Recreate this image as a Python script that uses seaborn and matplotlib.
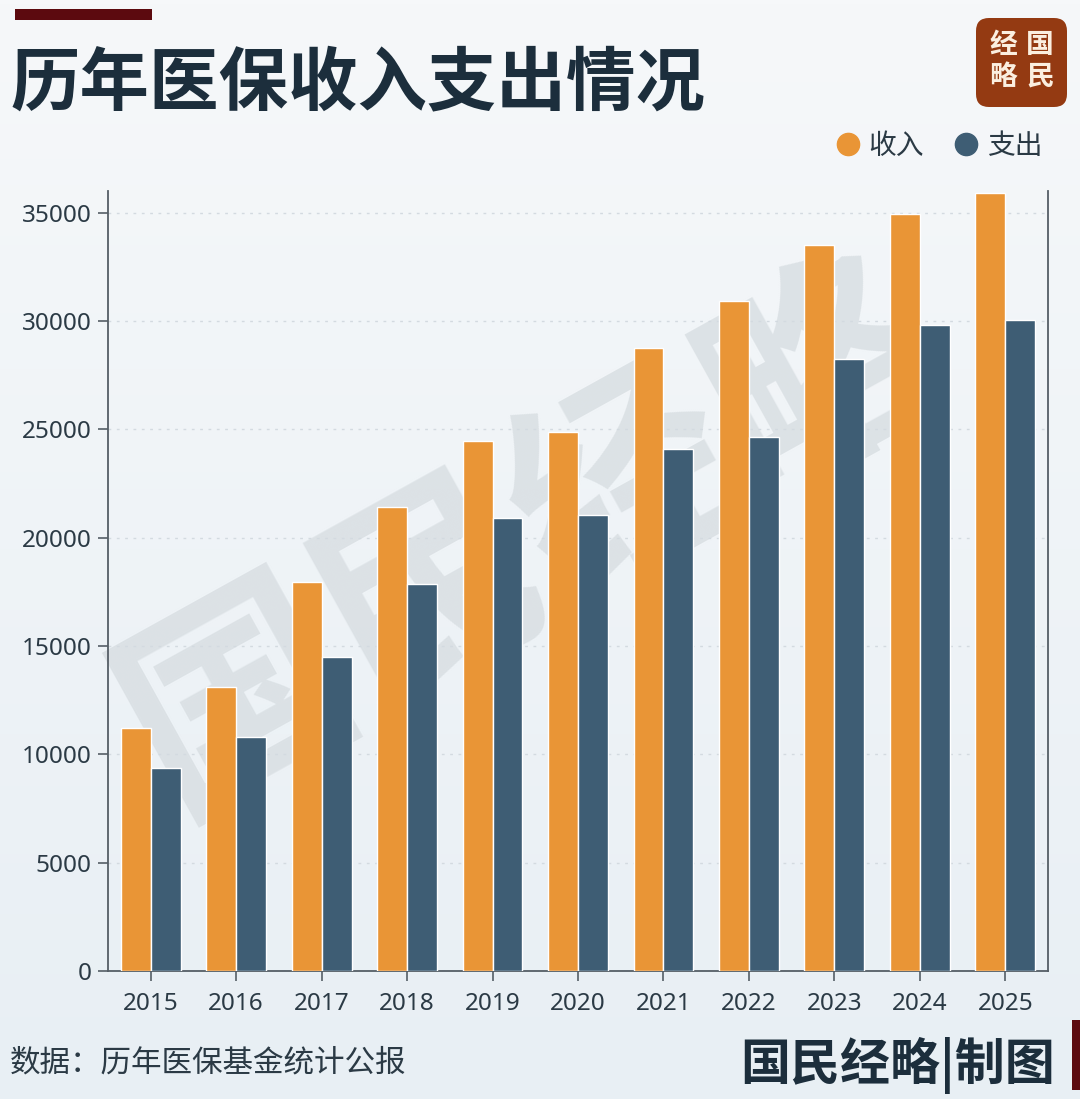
import matplotlib
matplotlib.use("Agg")
import matplotlib.pyplot as plt
from matplotlib.patches import FancyBboxPatch, Rectangle
from matplotlib.lines import Line2D
from matplotlib.colors import LinearSegmentedColormap
import seaborn as sns
import pandas as pd
import numpy as np

years = ["2015", "2016", "2017", "2018", "2019", "2020", "2021", "2022", "2023", "2024", "2025"]
income = [11230, 13130, 17970, 21410, 24440, 24870, 28750, 30940, 33520, 34940, 35890]
expense = [9360, 10800, 14470, 17860, 20900, 21060, 24090, 24630, 28260, 29800, 30050]
series_names = ["收入", "支出"]
y_ticks = [0, 5000, 10000, 15000, 20000, 25000, 30000, 35000]

title = "历年医保收入支出情况"
source = "数据：历年医保基金统计公报"
brand = "国民经略|制图"

ORANGE = "#E99536"
BLUE = "#3E5D74"
DARK = "#1C2E3C"
TEXT = "#2B3A45"
BG = "#EEF3F7"

df = pd.DataFrame({
    "年份": years * 2,
    "值": income + expense,
    "类别": [series_names[0]] * len(years) + [series_names[1]] * len(years),
})

sns.set_theme(style="white")
plt.rcParams["font.family"] = ["Noto Sans CJK SC", "DejaVu Sans"]

W, H = 1080, 1099
fig = plt.figure(figsize=(W / 100, H / 100), dpi=100)
fig.patch.set_facecolor(BG)

# subtle background gradient
bg_ax = fig.add_axes([0, 0, 1, 1], zorder=-10)
grad = np.linspace(0, 1, 256).reshape(-1, 1)
cmap = LinearSegmentedColormap.from_list("bg", ["#F6F8FA", "#E8EFF4"])
bg_ax.imshow(grad, aspect="auto", cmap=cmap, extent=[0, 1, 0, 1], origin="upper")
bg_ax.axis("off")

ax = fig.add_axes([108 / W, 1 - 971 / H, (1048 - 108) / W, (971 - 191) / H])
ax.set_facecolor("none")

# watermark
fig.text(0.49, 0.51, "国民经略", fontsize=160, color="#DAE0E4", alpha=0.9,
         rotation=29, ha="center", va="center", fontweight="bold", zorder=-5)

sns.barplot(data=df, x="年份", y="值", hue="类别", palette=[ORANGE, BLUE],
            width=0.7, edgecolor="white", linewidth=1.0, saturation=1,
            ax=ax, legend=False, zorder=3)

ax.set_ylim(0, 36000)
ax.set_xlim(-0.5, len(years) - 0.5)
ax.set_yticks(y_ticks)
ax.set_yticklabels([str(v) for v in y_ticks])
ax.set_xlabel("")
ax.set_ylabel("")
ax.yaxis.grid(True, linestyle=(0, (2, 4)), color="#D3DAE0", linewidth=1.0, zorder=0)
ax.xaxis.grid(False)
for s in ["left", "right", "bottom"]:
    ax.spines[s].set_visible(True)
    ax.spines[s].set_color("#555E66")
    ax.spines[s].set_linewidth(1.3)
ax.spines["top"].set_visible(False)
ax.tick_params(axis="both", which="both", direction="out", length=7, width=1.2,
               color="#555E66", labelsize=17.5, labelcolor=TEXT, pad=5)
ax.tick_params(axis="y", left=True)
ax.tick_params(axis="x", bottom=True, pad=8)
for lab in ax.get_xticklabels() + ax.get_yticklabels():
    lab.set_fontfamily(["Noto Sans", "DejaVu Sans"])

# legend
handles = [Line2D([0], [0], marker="o", linestyle="none", markersize=16,
                  markerfacecolor=c, markeredgecolor=c) for c in [ORANGE, BLUE]]
fig.legend(handles, series_names, loc="center right", bbox_to_anchor=(1056 / W, 1 - 146 / H),
           ncol=2, frameon=False, fontsize=20, handletextpad=0.15, columnspacing=0.9,
           handlelength=1.2, labelcolor=TEXT, borderpad=0)

# title
fig.text(10 / W, 1 - 84 / H, title, fontsize=50, fontweight="bold", color=DARK,
         ha="left", va="center")
fig.add_artist(Rectangle((15 / W, 1 - 20 / H), (152 - 15) / W, 11 / H,
                         transform=fig.transFigure, color="#5C0A0F", lw=0))

# logo box
fig.add_artist(FancyBboxPatch((976 / W, 1 - 107 / H), 91 / W, 89 / H,
                              boxstyle="round,pad=0,rounding_size=0.012",
                              transform=fig.transFigure, facecolor="#943A12",
                              edgecolor="none", mutation_aspect=W / H))
for ch, (px, py) in zip("国民经略", [(1040, 45), (1040, 77), (1003, 45), (1003, 77)]):
    fig.text(px / W, 1 - py / H, ch, fontsize=20, color="#FBEFE0", ha="center",
             va="center", fontweight="bold")

# footer
fig.text(10 / W, 1 - 1063 / H, source, fontsize=22, color=TEXT, ha="left", va="center")
fig.text(1055 / W, 1 - 1065 / H, brand, fontsize=36, color=DARK, ha="right",
         va="center", fontweight="bold")
fig.add_artist(Rectangle((1072 / W, 1 - 1090 / H), 8 / W, 70 / H,
                         transform=fig.transFigure, color="#5C0A0F", lw=0))

fig.savefig("out.png", dpi=100, facecolor=fig.get_facecolor())
